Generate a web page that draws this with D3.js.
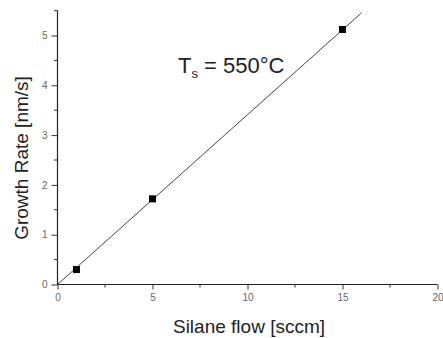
<!DOCTYPE html>
<html>
<head>
<meta charset="utf-8">
<script src="https://cdn.jsdelivr.net/npm/d3@7"></script>
<style>
  html, body { margin: 0; padding: 0; background: #fff; }
  svg { display: block; }
</style>
</head>
<body>
<svg id="chart" width="443" height="338"></svg>
<script>
// Measured growth rate vs. silane flow
const flow = [1, 5, 15];            // sccm
const rate = [0.3, 1.72, 5.12];     // nm/s
// Linear fit through the origin
const fitFlow = [0, 16];
const fitSlope = 0.341;
const xTicks = [0, 5, 10, 15, 20];
const yTicks = [0, 1, 2, 3, 4, 5];

const svg = d3.select("#chart");
const font = "'Liberation Sans', Arial, sans-serif";

const x = d3.scaleLinear().domain([0, 20]).range([57.5, 437.5]);
const y = d3.scaleLinear().domain([0, 5.5]).range([284.5, 10.6]);

// Axes with outward major ticks and shorter minor ticks
const xMinor = d3.range(0, 20.01, 2.5).filter(v => !xTicks.includes(v));
const yMinor = d3.range(0, 5.51, 0.5).filter(v => !yTicks.includes(v));

const gx = svg.append("g").attr("transform", `translate(0,${y(0)})`);
gx.append("line").attr("x1", x(0)).attr("x2", x(20)).attr("stroke", "#222").attr("stroke-width", 1.2);
gx.call(d3.axisBottom(x).tickValues(xTicks).tickSize(5).tickPadding(4).tickFormat(d3.format("d")))
  .call(g => g.select(".domain").remove());
gx.selectAll(".tick line").attr("stroke", "#333");
gx.selectAll(".tick text").attr("fill", "#666").style("font-family", font).style("font-size", "10px");
gx.selectAll(".minor").data(xMinor).enter().append("line")
  .attr("x1", d => x(d)).attr("x2", d => x(d)).attr("y1", 0).attr("y2", 3).attr("stroke", "#333");

const gy = svg.append("g").attr("transform", `translate(${x(0)},0)`);
gy.append("line").attr("y1", y(0)).attr("y2", y(5.5)).attr("stroke", "#222").attr("stroke-width", 1.2);
gy.call(d3.axisLeft(y).tickValues(yTicks).tickSize(6).tickPadding(4).tickFormat(d3.format("d")))
  .call(g => g.select(".domain").remove());
gy.selectAll(".tick line").attr("stroke", "#333");
gy.selectAll(".tick text").attr("fill", "#666").style("font-family", font).style("font-size", "10px");
gy.selectAll(".minor").data(yMinor).enter().append("line")
  .attr("y1", d => y(d)).attr("y2", d => y(d)).attr("x1", 0).attr("x2", -3.5).attr("stroke", "#333");

// Fit line
const line = d3.line().x(d => x(d)).y(d => y(d * fitSlope));
svg.append("path").datum(fitFlow).attr("d", line)
  .attr("fill", "none").attr("stroke", "#444").attr("stroke-width", 1);

// Data markers
const ms = 7;
svg.selectAll(".pt").data(flow).enter().append("rect")
  .attr("x", (d) => x(d) - ms / 2)
  .attr("y", (d, i) => y(rate[i]) - ms / 2)
  .attr("width", ms).attr("height", ms).attr("fill", "#000");

// Axis titles
svg.append("text").attr("x", 249).attr("y", 333).attr("text-anchor", "middle")
  .style("font-family", font).style("font-size", "19px").attr("fill", "#222")
  .text("Silane flow [sccm]");
svg.append("text").attr("transform", "translate(28,158) rotate(-90)").attr("text-anchor", "middle")
  .style("font-family", font).style("font-size", "19px").attr("fill", "#222")
  .text("Growth Rate [nm/s]");

// Substrate temperature annotation
const ann = svg.append("text").attr("x", 178).attr("y", 73)
  .style("font-family", font).style("font-size", "22px").attr("fill", "#222");
ann.append("tspan").text("T");
ann.append("tspan").attr("dy", 5).style("font-size", "13px").text("s");
ann.append("tspan").attr("dy", -5).text(" = 550°C");
</script>
</body>
</html>
